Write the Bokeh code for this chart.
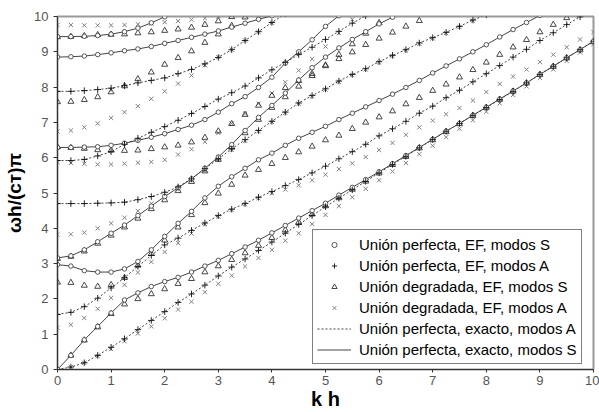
from bokeh.plotting import figure
from bokeh.models import ColumnDataSource, Range1d, Legend, LegendItem, FixedTicker
from bokeh.embed import file_html
from bokeh.resources import INLINE

KH = [i * 0.25 for i in range(41)]

# Perfect bond, exact (and EF) symmetric branches
S0 = [0, 0.40, 0.84, 1.22, 1.60, 1.97, 2.17, 2.35, 2.49, 2.61, 2.76, 2.93, 3.09, 3.28, 3.47, 3.66, 3.87, 4.08, 4.29, 4.50, 4.71, 4.94, 5.16, 5.38, 5.60, 5.83, 6.06, 6.29, 6.52, 6.75, 6.97, 7.20, 7.43, 7.66, 7.89, 8.12, 8.36, 8.59, 8.83, 9.06, 9.30]
S1 = [2.97, 2.93, 2.80, 2.76, 2.76, 2.85, 3.06, 3.39, 3.77, 4.14, 4.48, 4.86, 5.19, 5.46, 5.70, 5.94, 6.13, 6.35, 6.55, 6.72, 6.89, 7.08, 7.26, 7.44, 7.62, 7.80, 7.99, 8.19, 8.40, 8.60, 8.80, 9.00, 9.20, 9.42, 9.63, 9.83, 10.03]
S2 = [3.16, 3.22, 3.39, 3.62, 3.86, 4.09, 4.36, 4.63, 4.90, 5.15, 5.40, 5.70, 6.02, 6.37, 6.77, 7.14, 7.48, 7.83, 8.20, 8.55, 8.85, 9.11, 9.35, 9.57, 9.79, 9.98, 10.18]
S3 = [6.29, 6.29, 6.30, 6.31, 6.35, 6.41, 6.49, 6.58, 6.68, 6.80, 6.92, 7.08, 7.29, 7.53, 7.73, 7.99, 8.28, 8.68, 9.00, 9.34, 9.72, 10.02]
S4 = [8.85, 8.86, 8.88, 8.92, 8.97, 9.03, 9.08, 9.15, 9.24, 9.32, 9.41, 9.50, 9.59, 9.70, 9.81, 9.92, 10.02]
S5 = [9.43, 9.43, 9.44, 9.46, 9.50, 9.57, 9.67, 9.82, 9.99, 10.15]

# Perfect bond antisymmetric branches
A0 = [0, 0.07, 0.19, 0.40, 0.63, 0.87, 1.13, 1.39, 1.64, 1.90, 2.14, 2.39, 2.65, 2.90, 3.13, 3.37, 3.61, 3.86, 4.11, 4.36, 4.61, 4.85, 5.09, 5.33, 5.57, 5.81, 6.04, 6.28, 6.52, 6.75, 6.97, 7.20, 7.42, 7.65, 7.88, 8.12, 8.36, 8.59, 8.83, 9.06, 9.30]
A1 = [1.56, 1.62, 1.78, 2.02, 2.31, 2.60, 2.92, 3.23, 3.53, 3.72, 3.94, 4.15, 4.36, 4.54, 4.70, 4.88, 5.04, 5.21, 5.38, 5.57, 5.76, 5.97, 6.17, 6.38, 6.62, 6.82, 7.03, 7.26, 7.46, 7.70, 7.91, 8.15, 8.38, 8.61, 8.85, 9.07, 9.32, 9.54, 9.77, 9.99, 10.2]
A2 = [4.70, 4.70, 4.70, 4.71, 4.72, 4.74, 4.81, 4.90, 5.02, 5.17, 5.40, 5.69, 5.97, 6.25, 6.51, 6.77, 7.03, 7.29, 7.55, 7.76, 7.95, 8.17, 8.36, 8.52, 8.72, 8.90, 9.06, 9.25, 9.40, 9.55, 9.72, 9.90, 10.05]
A3 = [5.92, 5.92, 5.95, 6.05, 6.17, 6.38, 6.55, 6.72, 6.88, 7.06, 7.25, 7.45, 7.66, 7.84, 8.03, 8.26, 8.49, 8.70, 8.92, 9.13, 9.35, 9.58, 9.81, 10.02]
A4 = [7.88, 7.88, 7.90, 7.93, 7.97, 8.04, 8.12, 8.19, 8.26, 8.38, 8.50, 8.66, 8.84, 9.06, 9.32, 9.57, 9.83, 10.08]

# Degraded bond, EF, symmetric (triangles)
T0 = [0, 0.40, 0.83, 1.20, 1.58, 1.85, 2.00, 2.14, 2.28, 2.43, 2.57, 2.76, 2.93, 3.11, 3.30, 3.51, 3.73, 3.95, 4.17, 4.40, 4.63, 4.86, 5.10, 5.33, 5.56, 5.80, 6.03, 6.27, 6.50, 6.73, 6.96, 7.19, 7.42, 7.65, 7.88, 8.11, 8.35, 8.58, 8.82, 9.05, 9.28]
T1 = [2.47, 2.46, 2.38, 2.35, 2.40, 2.60, 2.95, 3.28, 3.66, 4.03, 4.38, 4.72, 4.99, 5.24, 5.50, 5.66, 5.83, 6.00, 6.16, 6.32, 6.50, 6.63, 6.82, 7.00, 7.15, 7.32, 7.52, 7.70, 7.90, 8.08, 8.28, 8.49, 8.70, 8.92, 9.13, 9.34, 9.56, 9.77, 9.96]
T2 = [3.14, 3.20, 3.35, 3.57, 3.80, 4.03, 4.28, 4.55, 4.80, 5.06, 5.32, 5.62, 5.95, 6.30, 6.70, 7.08, 7.42, 7.72, 8.02, 8.32, 8.62, 8.92, 9.22, 9.52, 9.82]
T3 = [7.58, 7.59, 7.64, 7.72, 7.86, 8.03, 8.23, 8.42, 8.64, 8.83, 9.02, 9.26, 9.50, 9.74, 9.98]
T4 = [6.30, 6.28, 6.26, 6.22, 6.21, 6.20, 6.21, 6.25, 6.30, 6.35, 6.44, 6.57, 6.75, 6.96, 7.22, 7.48, 7.76, 7.98, 8.18, 8.38, 8.60, 8.80, 8.99, 9.20, 9.38, 9.55, 9.72, 9.88]
T5 = [9.42, 9.43, 9.45, 9.48, 9.49, 9.50, 9.53, 9.56, 9.60, 9.64, 9.69, 9.77, 9.87, 9.99]

# Degraded bond, EF, antisymmetric (crosses)
X0 = [0, 0.07, 0.19, 0.38, 0.58, 0.80, 1.02, 1.22, 1.45, 1.70, 1.92, 2.19, 2.43, 2.66, 2.92, 3.16, 3.39, 3.65, 3.86, 4.12, 4.38, 4.63, 4.88, 5.12, 5.36, 5.61, 5.85, 6.10, 6.34, 6.58, 6.82, 7.06, 7.30, 7.54, 7.78, 8.02, 8.26, 8.50, 8.74, 8.98, 9.22]
X1 = [1.18, 1.27, 1.46, 1.72, 2.03, 2.40, 2.75, 3.05, 3.33, 3.58, 3.85, 4.12, 4.33, 4.52, 4.68, 4.85, 5.00, 5.10, 5.22, 5.36, 5.52, 5.68, 5.84, 6.02, 6.22, 6.42, 6.65, 6.86, 7.05, 7.23, 7.41, 7.62, 7.86, 8.09, 8.30, 8.50, 8.71, 8.92, 9.13, 9.35, 9.56]
X2 = [3.82, 3.83, 3.88, 4.00, 4.14, 4.30, 4.49, 4.70, 4.92, 5.13, 5.37, 5.65, 5.93, 6.22, 6.48, 6.75, 7.01, 7.27, 7.53, 7.74, 7.93, 8.15, 8.34, 8.50, 8.70, 8.88, 9.04, 9.23, 9.38, 9.53, 9.70, 9.88]
X3 = [5.87, 5.85, 5.83, 5.81, 5.81, 5.83, 5.86, 5.88, 5.94, 6.09, 6.24, 6.45, 6.70, 6.97, 7.25, 7.53, 7.83, 8.14, 8.47, 8.80, 9.15, 9.53, 9.92]
X4 = [6.74, 6.77, 6.86, 6.97, 7.13, 7.29, 7.46, 7.67, 7.88, 8.10, 8.33, 8.62, 8.85, 9.06, 9.32, 9.56, 9.82]
X5 = [9.76, 9.76, 9.75, 9.75, 9.75, 9.76, 9.78, 9.80, 9.84, 9.87, 9.91, 9.95, 10.0]

S_BRANCHES = [S0, S1, S2, S3, S4, S5]
A_BRANCHES = [A0, A1, A2, A3, A4]
T_BRANCHES = [T0, T1, T2, T3, T4, T5]
X_BRANCHES = [X0, X1, X2, X3, X4, X5]

LABELS = ["Unión perfecta, EF, modos S", "Unión perfecta, EF, modos A",
          "Unión degradada, EF, modos S", "Unión degradada, EF, modos A",
          "Unión perfecta, exacto, modos A", "Unión perfecta, exacto, modos S"]


def flat(branches):
    xs, ys = [], []
    for b in branches:
        xs.extend(KH[:len(b)])
        ys.extend(b)
    return ColumnDataSource(dict(x=xs, y=ys))


def multi(branches):
    return ColumnDataSource(dict(xs=[KH[:len(b)] for b in branches], ys=list(branches)))


FONT = "Liberation Sans"

p = figure(width=599, height=412, output_backend="svg", toolbar_location=None,
           x_range=Range1d(0, 10), y_range=Range1d(0, 10),
           min_border_left=57, min_border_right=6, min_border_top=16, min_border_bottom=43)
p.xgrid.visible = False
p.ygrid.visible = False
p.background_fill_color = "white"
p.border_fill_color = "white"
p.outline_line_color = "#999999"
p.outline_line_width = 2

for ax in (p.xaxis[0], p.yaxis[0]):
    ax.ticker = FixedTicker(ticks=list(range(0, 11)))
    ax.minor_tick_line_color = None
    ax.major_tick_in = 0
    ax.major_tick_out = 4
    ax.axis_line_color = "#333333"
    ax.major_tick_line_color = "#333333"
    ax.major_label_text_font = FONT
    ax.major_label_text_font_size = "13px"
    ax.major_label_text_color = "#555555"
    ax.axis_label_text_font = FONT
    ax.axis_label_text_font_style = "bold"
    ax.axis_label_text_color = "black"

p.xaxis.axis_label = "k h"
p.yaxis.axis_label = "ωh/(cᴛ)π"
p.xaxis.axis_label_text_font_size = "20px"
p.yaxis.axis_label_text_font_size = "19px"
p.xaxis.major_tick_out = 3
p.xaxis.major_label_standoff = 3
p.yaxis.major_label_standoff = 5
p.xaxis.axis_label_standoff = 0
p.yaxis.axis_label_standoff = 6

r_sl = p.multi_line("xs", "ys", source=multi(S_BRANCHES), line_color="#444444", line_width=1)
r_al = p.multi_line("xs", "ys", source=multi(A_BRANCHES), line_color="#444444", line_width=1, line_dash="2 2")

r_x = p.scatter("x", "y", source=flat(X_BRANCHES), marker="x", size=6, line_color="#808080", line_width=1)
r_t = p.scatter("x", "y", source=flat(T_BRANCHES), marker="triangle", size=6, line_color="#333333",
                fill_color=None, line_width=0.9)
r_c = p.scatter("x", "y", source=flat(S_BRANCHES), marker="circle", size=4.5, line_color="#444444",
                fill_color="white", line_width=0.9)
r_p = p.scatter("x", "y", source=flat(A_BRANCHES), marker="cross", size=6.5, line_color="#111111", line_width=0.9)

legend = Legend(items=[
    LegendItem(label=LABELS[0], renderers=[r_c]),
    LegendItem(label=LABELS[1], renderers=[r_p]),
    LegendItem(label=LABELS[2], renderers=[r_t]),
    LegendItem(label=LABELS[3], renderers=[r_x]),
    LegendItem(label=LABELS[4], renderers=[r_al]),
    LegendItem(label=LABELS[5], renderers=[r_sl]),
], location=(255, 5))
legend.label_text_font = FONT
legend.label_text_font_size = "15px"
legend.label_text_color = "black"
legend.glyph_width = 34
legend.glyph_height = 13
legend.label_height = 20
legend.spacing = 1
legend.padding = 4
legend.margin = 0
legend.label_standoff = 8
legend.border_line_color = "black"
legend.border_line_width = 1
legend.background_fill_alpha = 1
p.add_layout(legend, "center")

open("out.html", "w").write(file_html(p, INLINE))
